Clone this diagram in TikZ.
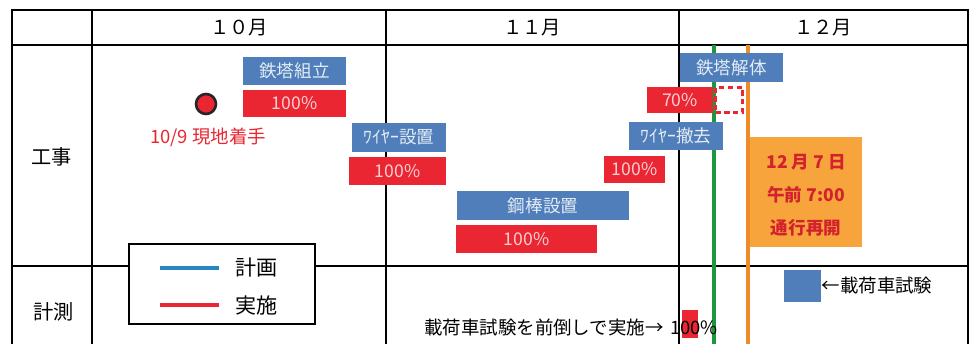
\documentclass[tikz,border=0pt]{standalone}
\usepackage{fontspec}
\setmainfont{Noto Sans CJK JP}
\usetikzlibrary{positioning}
\definecolor{planblue}{RGB}{79,126,186}
\definecolor{donered}{RGB}{233,38,50}
\definecolor{openorange}{RGB}{248,164,60}
\definecolor{lineorange}{RGB}{240,138,40}
\definecolor{plangreen}{RGB}{30,150,60}
\definecolor{legblue}{RGB}{40,135,190}
\tikzstyle{plan} = [rectangle, fill=planblue, text=white!85!planblue, inner sep=0pt, font=\fontsize{10}{12}\selectfont]
\tikzstyle{done} = [rectangle, fill=donered, text=white!78!donered, inner sep=0pt, font=\fontsize{10}{12}\selectfont]
\tikzstyle{month} = [font=\fontsize{11}{13}\selectfont]
\tikzstyle{row} = [font=\fontsize{11.5}{13}\selectfont]
\tikzstyle{note} = [font=\fontsize{10.5}{12}\selectfont, inner sep=0pt]

\begin{document}
\begin{tikzpicture}[x=0.02cm, y=-0.02cm]
    \useasboundingbox (0,0) rectangle (971,344);
    \fill[white] (0,0) rectangle (971,344);

    % 表
    \draw[line width=0.9pt] (12,350) -- (12,10) -- (968,10) -- (968,350);
    \draw[line width=0.9pt] (12,45) -- (968,45);
    \draw[line width=0.9pt] (12,266) -- (968,266);
    \draw[line width=0.9pt] (92,10) -- (92,350);
    \draw[line width=0.9pt] (386,10) -- (386,350);
    \draw[line width=0.9pt] (679,10) -- (679,350);

    \node[month] (oct) at (239,28) {１０月};
    \node[month] (nov) at (532,28) {１１月};
    \node[month] (dec) at (823,28) {１２月};
    \node[row] (kouji) at (52,157) {工事};
    \node[row] (keisoku) at (54,312) {計測};

    % 基準線
    \draw[plangreen, line width=2pt] (714,45) -- (714,350);
    \draw[lineorange, line width=2.4pt] (748,45) -- (748,350);

    % 工事
    \node[circle, fill=donered, draw=black!85, line width=1.5pt, minimum size=0.4cm, inner sep=0pt] (start) at (206,104) {};
    \node[note, text=donered] (startlbl) at (208,137) {10/9 現地着手};

    \node[plan, minimum width=2.06cm, minimum height=0.56cm] (kumitate) at (294.5,71) {鉄塔組立};
    \node[done, minimum width=2.06cm, minimum height=0.54cm] (kumitateD) at (294.5,103.5) {100\%};

    \node[plan, minimum width=1.88cm, minimum height=0.58cm] (wire) at (399,137.5) {ﾜｲﾔｰ設置};
    \node[done, minimum width=1.94cm, minimum height=0.56cm] (wireD) at (397.5,171) {100\%};

    \node[plan, minimum width=3.44cm, minimum height=0.58cm] (koubou) at (543,205.5) {鋼棒設置};
    \node[done, minimum width=2.82cm, minimum height=0.56cm] (koubouD) at (526.5,239) {100\%};

    \node[plan, minimum width=1.88cm, minimum height=0.56cm] (tekkyo) at (676,136) {ﾜｲﾔｰ撤去};
    \node[done, minimum width=1.22cm, minimum height=0.54cm] (tekkyoD) at (634.5,169.5) {100\%};

    \node[plan, minimum width=2.06cm, minimum height=0.58cm] (kaitai) at (731.5,67.5) {鉄塔解体};
    \node[done, minimum width=1.32cm, minimum height=0.52cm] (kaitaiD) at (680,100) {70\%};
    \node[rectangle, draw=donered, dashed, dash pattern=on 3pt off 2pt, line width=1.2pt, minimum width=0.54cm, minimum height=0.5cm, inner sep=0pt] (kaitaiR) at (729,100) {};

    % 通行再開
    \node[rectangle, fill=openorange, minimum width=2.24cm, minimum height=2.2cm, inner sep=0pt] (open) at (806,192) {};
    \node[align=center, text=donered!90!black, font=\bfseries\fontsize{10}{18.7}\selectfont] (openlbl) at (806,195) {12 月 7 日\\午前 7:00\\通行再開};

    % 凡例
    \node[rectangle, draw, fill=white, line width=0.6pt, minimum width=3.72cm, minimum height=1.6cm] (legend) at (222,284) {};
    \draw[legblue, line width=2.2pt] (160,268) -- (219,268);
    \draw[donered, line width=2.2pt] (160,305) -- (219,305);
    \node[font=\fontsize{12}{14}\selectfont, anchor=west, inner sep=0pt] (keikaku) at (235,268) {計画};
    \node[font=\fontsize{12}{14}\selectfont, anchor=west, inner sep=0pt] (jisshi) at (235,305) {実施};

    % 計測
    \node[rectangle, fill=donered, minimum width=0.32cm, minimum height=0.56cm, inner sep=0pt] (shikenD) at (690,324) {};
    \node[note, anchor=east] (maedaoshi) at (664,327) {載荷車試験を前倒しで実施→};
    \node[note] (shikenP) at (694,328) {100\%};
    \node[rectangle, fill=planblue, minimum width=0.74cm, minimum height=0.64cm, inner sep=0pt] (shiken) at (802.5,286) {};
    \node[note, anchor=west] (shikenlbl) at (shiken.east) {←載荷車試験};
\end{tikzpicture}
\end{document}
